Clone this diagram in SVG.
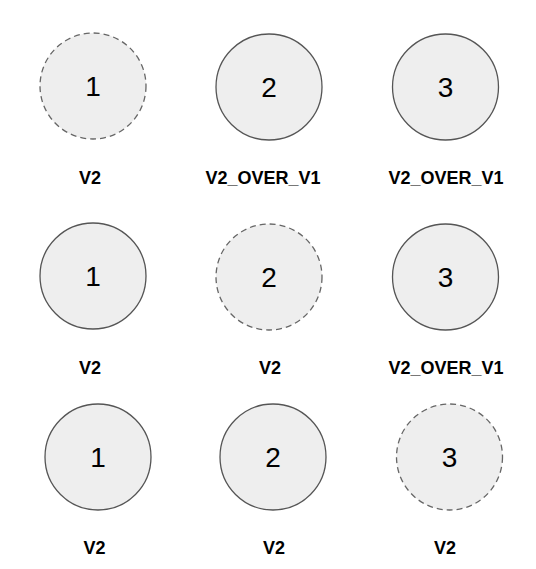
<svg xmlns="http://www.w3.org/2000/svg" width="536" height="569" viewBox="0 0 536 569">
<style>
.c{fill:#eeeeee;stroke:#555555;stroke-width:1.3}
.d{stroke-dasharray:6 4;stroke:#666666}
.n{font-family:"Liberation Sans",Arial,sans-serif;font-size:28px;fill:#000;text-anchor:middle}
.l{font-family:"Liberation Sans",Arial,sans-serif;font-size:18px;font-weight:bold;fill:#000;text-anchor:middle}
</style>
<rect width="536" height="569" fill="#ffffff"/>
<g id="r1c1"><circle class="c d" cx="93" cy="86" r="53"/><text class="n" x="93" y="96">1</text><text class="l" x="90" y="184">V2</text></g>
<g id="r1c2"><circle class="c" cx="269" cy="87" r="53"/><text class="n" x="269" y="97">2</text><text class="l" x="263" y="184">V2_OVER_V1</text></g>
<g id="r1c3"><circle class="c" cx="445.5" cy="87" r="53"/><text class="n" x="445.5" y="97">3</text><text class="l" x="446" y="184">V2_OVER_V1</text></g>
<g id="r2c1"><circle class="c" cx="93" cy="276" r="53"/><text class="n" x="93" y="286">1</text><text class="l" x="90" y="374">V2</text></g>
<g id="r2c2"><circle class="c d" cx="269" cy="277" r="53"/><text class="n" x="269" y="287">2</text><text class="l" x="270" y="374">V2</text></g>
<g id="r2c3"><circle class="c" cx="445.5" cy="277" r="53"/><text class="n" x="445.5" y="287">3</text><text class="l" x="446" y="374">V2_OVER_V1</text></g>
<g id="r3c1"><circle class="c" cx="98" cy="457" r="53"/><text class="n" x="98" y="467">1</text><text class="l" x="94.5" y="554">V2</text></g>
<g id="r3c2"><circle class="c" cx="273" cy="457" r="53"/><text class="n" x="273" y="467">2</text><text class="l" x="274" y="554">V2</text></g>
<g id="r3c3"><circle class="c d" cx="449.5" cy="457" r="53"/><text class="n" x="449.5" y="467">3</text><text class="l" x="445" y="554">V2</text></g>
<g id="connectors"/>
</svg>
